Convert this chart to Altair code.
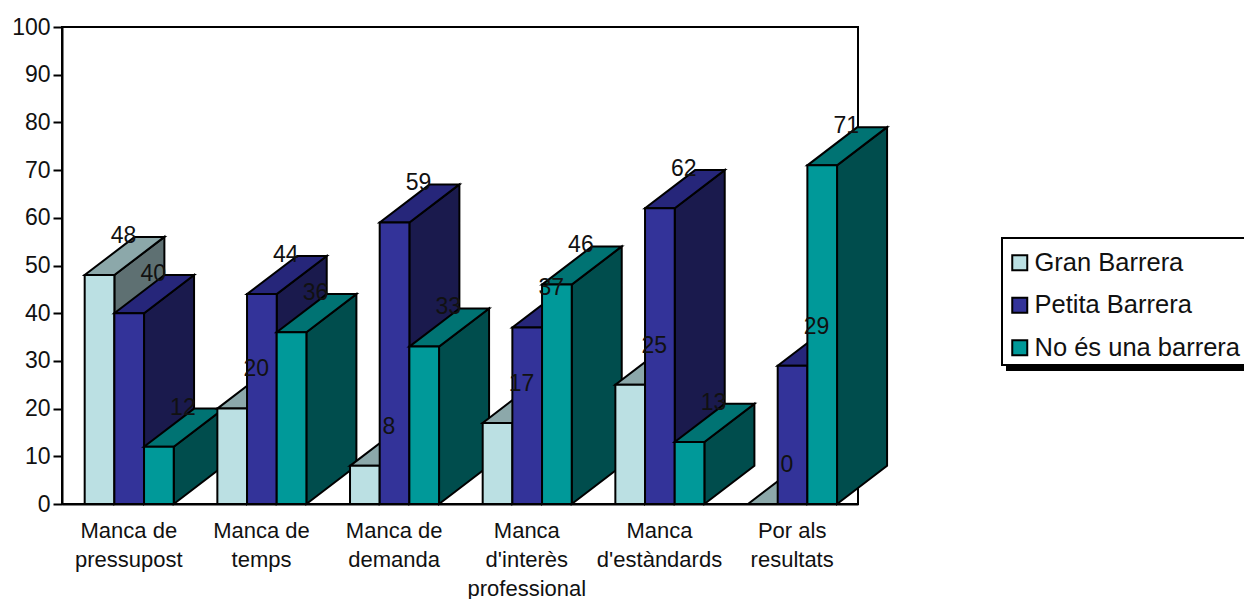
import altair as alt
import pandas as pd

# Survey results: share of respondents per barrier and rating
categories = ["Manca de|pressupost", "Manca de|temps", "Manca de|demanda",
              "Manca|d'interès|professional", "Manca|d'estàndards", "Por als|resultats"]
series = ["Gran Barrera", "Petita Barrera", "No és una barrera"]
gran_barrera = [48, 20, 8, 17, 25, 0]
petita_barrera = [40, 44, 59, 37, 62, 29]
no_barrera = [12, 36, 33, 46, 13, 71]
values = [gran_barrera, petita_barrera, no_barrera]

front_colors = ["#BBE0E3", "#333399", "#009999"]
top_colors = ["#8CA8AA", "#26267A", "#007373"]
side_colors = ["#5E7072", "#1A1A4D", "#004D4D"]

FONT = "Liberation Sans"

# Pseudo-3D extrusion: each bar is a front rectangle plus a top and a side face
GAP = 0.171
BAR_W = 0.2237
DEPTH_X = 0.377
DEPTH_Y = 8

x_scale = alt.Scale(domain=[0, 6], nice=False, zero=False)
y_scale = alt.Scale(domain=[0, 100], nice=False)
color_scale = alt.Scale(domain=series, range=front_colors)

label_lookup = "[" + ",".join("'" + c.replace("'", "\\'") + "'" for c in categories) + "]"

x_axis = alt.Axis(
    values=[i + 0.5 for i in range(6)],
    ticks=False, grid=False, domainColor="black", domainWidth=2,
    labelExpr="split(" + label_lookup + "[floor(datum.value)], '|')",
    labelFontSize=22, labelFont=FONT, labelColor="#111111", labelPadding=16,
    labelLineHeight=29, labelOverlap=False, labelBound=False, labelFlush=False)
y_axis = alt.Axis(
    values=list(range(0, 101, 10)),
    grid=False, tickSize=9, tickWidth=2, tickColor="black",
    domainColor="black", domainWidth=2, labelPadding=3,
    labelFontSize=23, labelFont=FONT, labelColor="#111111")


def x_enc(field):
    return alt.X(field, scale=x_scale, axis=x_axis, title=None)


def y_enc(field):
    return alt.Y(field, scale=y_scale, axis=y_axis, title=None)


# Legend frame with its offset band underneath
shadow = alt.Chart(pd.DataFrame({"s": [0]})).mark_rect(color="black").encode(
    x=alt.value(944), x2=alt.value(1200), y=alt.value(338), y2=alt.value(344))
legend_box = alt.Chart(pd.DataFrame({"s": [0]})).mark_rect(
    color="white", stroke="black", strokeWidth=2).encode(
    x=alt.value(940), x2=alt.value(1200), y=alt.value(211), y2=alt.value(338))

layers = [shadow, legend_box]
label_rows = []

for c in range(len(categories)):
    for s in range(len(series)):
        v = values[s][c]
        x0 = c + GAP + s * BAR_W
        x1 = x0 + BAR_W

        side = pd.DataFrame({"x": [x1, x1 + DEPTH_X], "lo": [0, DEPTH_Y], "hi": [v, v + DEPTH_Y]})
        layers.append(alt.Chart(side).mark_area(
            color=side_colors[s], stroke="black", strokeWidth=2, strokeJoin="miter").encode(
            x=x_enc("x:Q"), y=y_enc("lo:Q"), y2="hi:Q"))

        top = pd.DataFrame({"y": [v, v + DEPTH_Y], "a": [x0, x0 + DEPTH_X], "b": [x1, x1 + DEPTH_X]})
        layers.append(alt.Chart(top).mark_area(
            orient="horizontal", color=top_colors[s], stroke="black", strokeWidth=2, strokeJoin="miter").encode(
            y=y_enc("y:Q"), x=x_enc("a:Q"), x2="b:Q"))

        front = pd.DataFrame({"x": [x0], "x2": [x1], "y": [0], "y2": [v], "serie": [series[s]]})
        layers.append(alt.Chart(front).mark_rect(stroke="black", strokeWidth=2).encode(
            x=x_enc("x:Q"), x2="x2:Q", y=y_enc("y:Q"), y2="y2:Q",
            color=alt.Color("serie:N", scale=color_scale, legend=alt.Legend(
                title=None, orient="none", legendX=940, legendY=210, values=series,
                symbolType="square", symbolSize=225, symbolStrokeColor="black", symbolStrokeWidth=2,
                symbolOffset=-8,
                labelFont=FONT, labelFontSize=25.5, labelColor="#111111", labelOffset=2, labelLimit=300,
                rowPadding=15.5, padding=13))))

        label_rows.append({"x": (x0 + x1) / 2 + DEPTH_X / 2, "y": v + DEPTH_Y, "v": v})

labels = alt.Chart(pd.DataFrame(label_rows)).mark_text(
    font=FONT, fontSize=23, color="#111111", baseline="middle", dx=-1, dy=-1).encode(
    x=x_enc("x:Q"), y=y_enc("y:Q"), text="v:Q")
layers.append(labels)

chart = alt.layer(*layers).properties(
    width=796, height=477,
    padding={"left": 62, "top": 27, "right": 386, "bottom": 95},
    autosize=alt.AutoSizeParams(type="none"),
    background="white",
).configure_view(stroke="black", strokeWidth=2)

chart.save("out.html", embed_options={"renderer": "svg", "actions": False})
